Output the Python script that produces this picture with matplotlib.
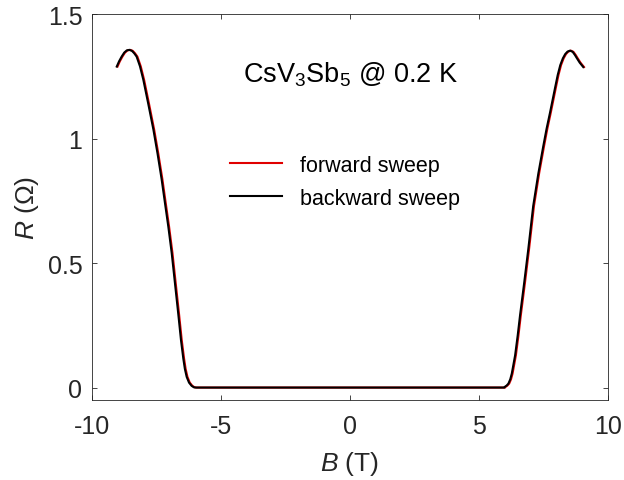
import matplotlib
matplotlib.use("Agg")
import matplotlib.pyplot as plt

plt.rcParams['font.family'] = ['Liberation Sans', 'DejaVu Sans']
plt.rcParams['mathtext.fontset'] = 'custom'
plt.rcParams['mathtext.rm'] = 'Liberation Sans'
plt.rcParams['mathtext.it'] = 'Liberation Sans:italic'

# backward sweep (black)
B_back = [-9.04, -8.95, -8.85, -8.75, -8.65, -8.55, -8.45, -8.36, -8.27, -8.14, -8.01,
          -7.82, -7.62, -7.46, -7.30, -7.17, -7.04, -6.91, -6.78, -6.65, -6.55, -6.46,
          -6.40, -6.33, -6.24, -6.14, -6.05, -5.97, 0.0,
          5.98, 6.00, 6.07, 6.14, 6.21, 6.27, 6.33, 6.40, 6.50, 6.59, 6.75, 6.91, 7.10,
          7.30, 7.49, 7.62, 7.75, 7.95, 8.05, 8.15, 8.25, 8.34, 8.43, 8.53, 8.63, 8.72, 8.79,
          8.90, 9.04]
R_back = [1.289, 1.31, 1.329, 1.345, 1.354, 1.356, 1.352, 1.342, 1.329, 1.29, 1.236,
          1.14, 1.036, 0.94, 0.836, 0.74, 0.645, 0.54, 0.415, 0.29, 0.19, 0.116,
          0.075, 0.043, 0.02, 0.007, 0.001, 0.0, 0.0,
          0.0, 0.003, 0.008, 0.016, 0.033, 0.056, 0.09, 0.13, 0.21, 0.29, 0.42, 0.556, 0.729,
          0.86, 0.969, 1.04, 1.103, 1.205, 1.255, 1.295, 1.322, 1.339, 1.349, 1.353, 1.348, 1.335, 1.323,
          1.305, 1.287]

# forward sweep (red), sits a hair to the right
B_fwd = [-9.01, -8.92, -8.82, -8.72, -8.62, -8.52, -8.42, -8.33, -8.24, -8.11, -7.98,
         -7.79, -7.59, -7.43, -7.27, -7.14, -7.01, -6.88, -6.75, -6.62, -6.52, -6.43,
         -6.37, -6.30, -6.21, -6.11, -6.02, -5.94, 0.0,
         6.01, 6.03, 6.10, 6.17, 6.24, 6.30, 6.36, 6.43, 6.53, 6.62, 6.78, 6.94, 7.13,
         7.33, 7.52, 7.65, 7.78, 7.98, 8.08, 8.18, 8.28, 8.37, 8.46, 8.56, 8.66, 8.75, 8.82,
         8.93, 9.07]
R_fwd = R_back

xticks = [-10, -5, 0, 5, 10]
xticklabels = ['-10', '-5', '0', '5', '10']
yticks = [0, 0.5, 1, 1.5]
yticklabels = ['0', '0.5', '1', '1.5']

fig = plt.figure(figsize=(6.24, 4.81), dpi=100)
ax = fig.add_axes([0.1474, 0.1663, 0.827, 0.8025])

ax.plot(B_fwd, R_fwd, color='#e00000', lw=1.5, label='forward sweep')
ax.plot(B_back, R_back, color='black', lw=1.5, label='backward sweep')

ax.set_xlim(-10, 10)
ax.set_ylim(-0.05, 1.5)
ax.set_xticks(xticks)
ax.set_xticklabels(xticklabels)
ax.set_yticks(yticks)
ax.set_yticklabels(yticklabels)

dark = (0.15, 0.15, 0.15)
for s in ax.spines.values():
    s.set_color(dark)
    s.set_linewidth(0.6)
ax.tick_params(direction='in', length=3.6, width=0.6, color=dark, labelcolor=dark,
               labelsize=18, top=True, right=True)
ax.tick_params(axis='x', pad=10)
ax.tick_params(axis='y', pad=7)

ax.set_xlabel(r'$B$ (T)', fontsize=19, color=dark, labelpad=8)
ax.set_ylabel(r'$R$ (Ω)', fontsize=19, color=dark, labelpad=5)

ax.text(-4.15, 1.229, r'CsV$_3$Sb$_5$ @ 0.2 K', fontsize=19.5, va='baseline', ha='left')

ax.legend(loc='center left', bbox_to_anchor=(0.2674, 0.565), frameon=False,
          fontsize=15.5, handlelength=2.42, handletextpad=0.84, labelspacing=0.56,
          borderpad=0, borderaxespad=0)

fig.savefig('out.png', dpi=100)
